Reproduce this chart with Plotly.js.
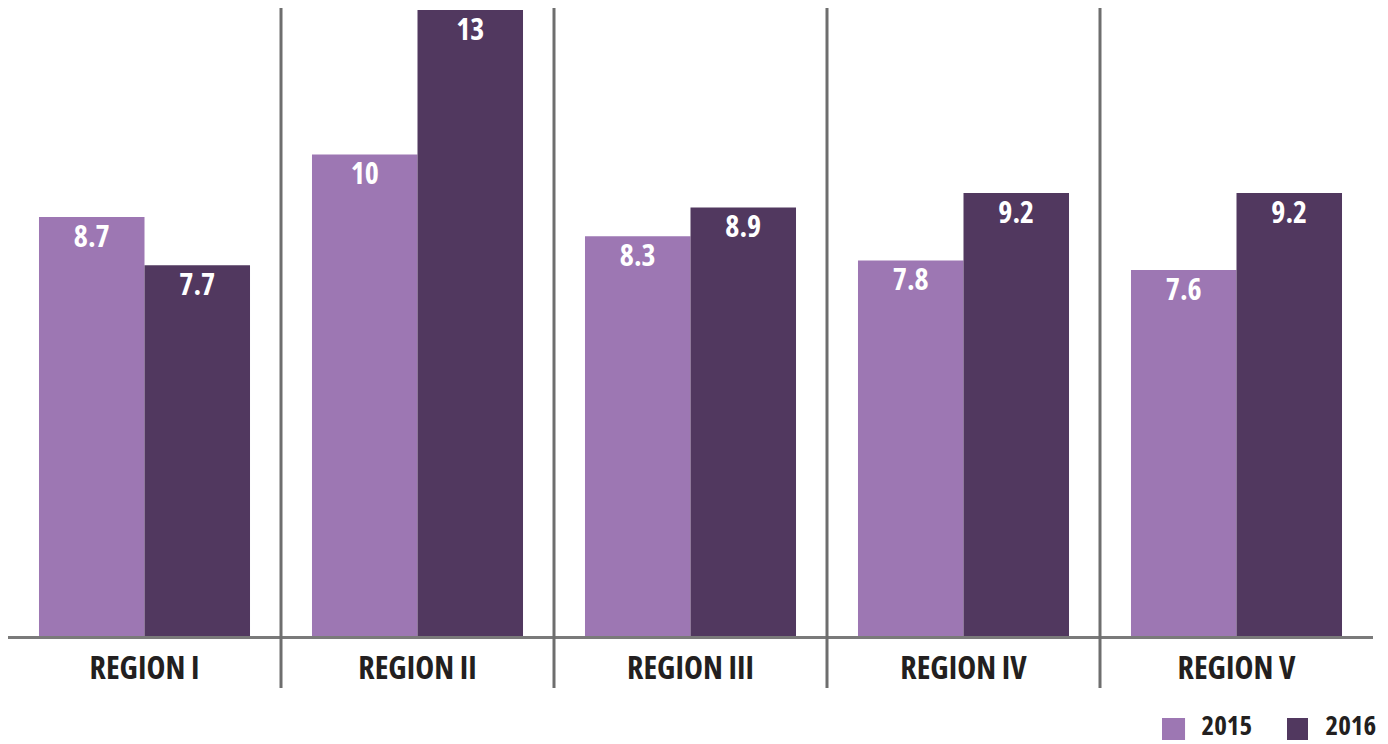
<!DOCTYPE html>
<html>
<head>
<meta charset="utf-8">
<script src="https://cdn.plot.ly/plotly-3.0.1.min.js"></script>
<style>
html,body{margin:0;padding:0;background:#fff;}
#chart{width:1388px;height:744px;}
#chart text{font-stretch:condensed !important;}
</style>
</head>
<body>
<div id="chart"></div>
<script>
const categories = ["REGION I", "REGION II", "REGION III", "REGION IV", "REGION V"];
const values2015 = [8.7, 10, 8.3, 7.8, 7.6];
const values2016 = [7.7, 13, 8.9, 9.2, 9.2];
const seriesNames = ["2015", "2016"];

const FAMILY = '"Open Sans", "Roboto", sans-serif';
const colors = ["#9d77b3", "#51385f"];
const TXT = "#231f20";

function mk(vals, name, color) {
  return {
    type: "bar", x: categories, y: vals, name: name,
    marker: {color: color, line: {width: 0}},
    text: vals.map(v => String(v)),
    textposition: "inside", insidetextanchor: "end",
    textangle: 0, constraintext: "none",
    insidetextfont: {family: FAMILY, size: 30, color: "#ffffff", weight: "bold"},
    hoverinfo: "skip", showlegend: false
  };
}
const data = [mk(values2015, seriesNames[0], colors[0]), mk(values2016, seriesNames[1], colors[1])];

const shapes = [];
for (let i = 0; i < categories.length - 1; i++) {
  shapes.push({type: "line", xref: "x", yref: "paper", x0: i + 0.5, x1: i + 0.5, y0: -0.083, y1: 1.003,
    line: {color: "#6e6e6e", width: 3}, layer: "above"});
}
// legend swatches + labels
const legSq = [[0.8454, 0.8623], [0.937, 0.9524]];
const legTx = [0.8695, 0.9605];
const annotations = [];
seriesNames.forEach((n, i) => {
  shapes.push({type: "rect", xref: "paper", yref: "paper", x0: legSq[i][0], x1: legSq[i][1], y0: -0.1661, y1: -0.131,
    fillcolor: colors[i], line: {width: 0}});
  annotations.push({xref: "paper", yref: "paper", x: legTx[i], y: -0.1406, xanchor: "left", yanchor: "middle",
    text: n, showarrow: false, borderpad: 0,
    font: {family: FAMILY, size: 27, color: TXT, weight: "bold"}});
});

const layout = {
  width: 1388, height: 744,
  margin: {l: 8, r: 15, t: 10, b: 108},
  paper_bgcolor: "#ffffff", plot_bgcolor: "#ffffff",
  barmode: "group", bargap: 0.227, bargroupgap: 0,
  font: {family: FAMILY, color: TXT},
  xaxis: {
    type: "category", range: [-0.5, 4.5],
    showline: true, linecolor: "#7a7a7a", linewidth: 3,
    ticks: "outside", ticklen: 2, tickcolor: "rgba(0,0,0,0)",
    tickfont: {family: FAMILY, size: 32, color: TXT, weight: "bold"},
    showgrid: false, zeroline: false, fixedrange: true
  },
  yaxis: {range: [0, 13], visible: false, showgrid: false, zeroline: false, fixedrange: true},
  showlegend: false,
  shapes: shapes,
  annotations: annotations
};

Plotly.newPlot("chart", data, layout, {displayModeBar: false, staticPlot: true}).then(function(gd){
  gd.querySelectorAll('text.bartext').forEach(function(t){
    var tr = t.getAttribute('transform') || '';
    t.setAttribute('transform', 'translate(0,-5) ' + tr);
  });
});
</script>
</body>
</html>
